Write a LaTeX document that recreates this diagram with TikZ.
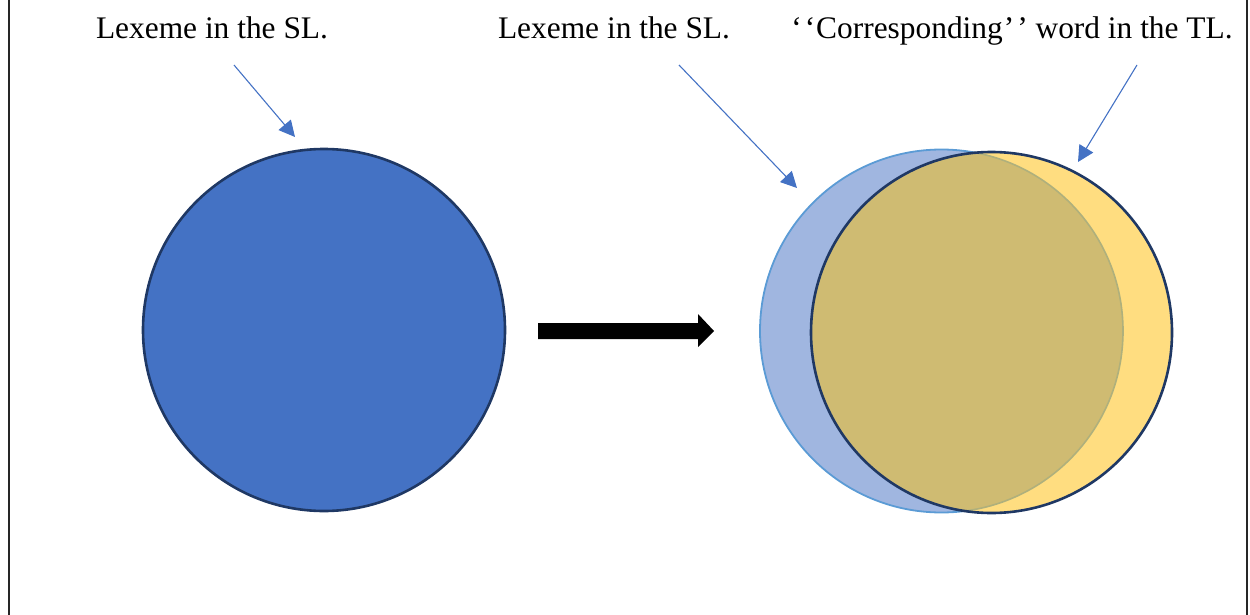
\documentclass[tikz,border=0pt]{standalone}
\usepackage{fontspec}
\setmainfont{Liberation Serif}
\usetikzlibrary{arrows.meta}
\definecolor{darkblue}{HTML}{4472C4}
\definecolor{lightblue}{HTML}{A0B6E0}
\definecolor{blueline}{HTML}{5B9BD5}
\definecolor{navy}{HTML}{1F3864}
\definecolor{yel}{HTML}{FFDD80}
\definecolor{olive}{HTML}{CFBB72}
\definecolor{faint}{HTML}{AFB07C}
\tikzset{
  lbl/.style={font=\fontsize{31.4}{36}\selectfont, inner sep=0pt, anchor=base},
  pointer/.style={draw=darkblue, line width=1.1pt, -{Triangle[length=16pt, width=16pt]}},
  bigarrow/.style={fill=black, draw=none},
}
\begin{document}
\begin{tikzpicture}[x=1pt, y=-1pt]
\useasboundingbox (0,0) rectangle (1250,615);
% frame sides
\draw[line width=1.3pt, black!85] (9,0) -- (9,615);
\draw[line width=1.3pt, black!85] (1247,0) -- (1247,615);

% labels
\node[lbl] (t1) at (212,39) {Lexeme in the SL.};
\node[lbl] (t2) at (614,39) {Lexeme in the SL.};
\node[lbl] (t3) at (1012,39) {‘\kern3pt‘\kern1pt Corresponding\kern1pt’\kern3pt’ word in the TL.};

% left circle
\node[circle, minimum size=362pt, inner sep=0pt, fill=darkblue, draw=navy, line width=2.6pt] (c1) at (324,330) {};

% right circles
\coordinate (cb) at (941.5,331);
\coordinate (cy) at (991.5,332.5);
\fill[lightblue] (cb) circle (181.5);
\fill[yel] (cy) circle (180.5);
\begin{scope}
  \clip (cy) circle (180.5);
  \fill[olive] (cb) circle (181.5);
  \draw[faint, line width=1.6pt] (cb) circle (181.5);
\end{scope}
\begin{scope}[even odd rule]
  \clip (0,0) rectangle (1250,615) (cy) circle (180.5);
  \draw[blueline, line width=1.8pt] (cb) circle (181.5);
\end{scope}
\node[circle, minimum size=361pt, inner sep=0pt, draw=navy, line width=2.6pt] (cyl) at (cy) {};

% pointer arrows
\coordinate (s1) at (234,65);
\coordinate (s2) at (679,65);
\coordinate (s3) at (1137,65);
\coordinate (e1) at (295,137);
\coordinate (e2) at (797,188);
\coordinate (e3) at (1078,162);
\draw[pointer] (s1) -- (e1);
\draw[pointer] (s2) -- (e2);
\draw[pointer] (s3) -- (e3);

% big arrow
\fill[bigarrow] (538,323) -- (698,323) -- (698,314) -- (714,331) -- (698,347) -- (698,339) -- (538,339) -- cycle;
\end{tikzpicture}
\end{document}
